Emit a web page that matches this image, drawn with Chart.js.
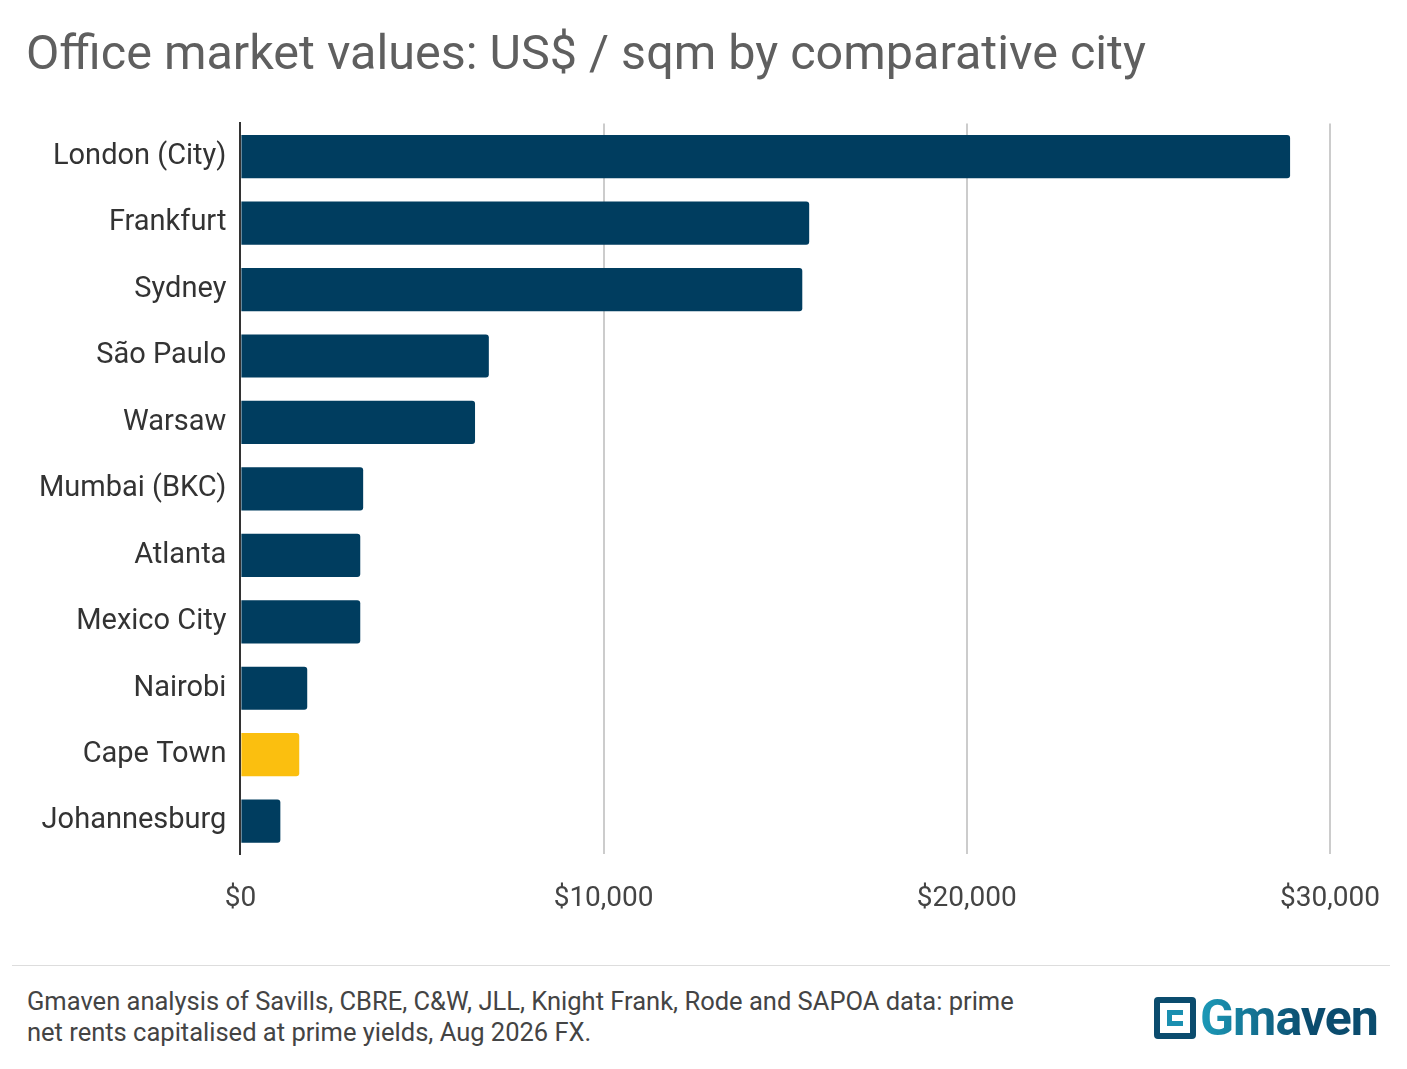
<!DOCTYPE html>
<html><head><meta charset="utf-8">
<script src="https://cdn.jsdelivr.net/npm/chart.js@4/dist/chart.umd.min.js"></script>
<style>
body{margin:0;background:#fff;font-family:Roboto,sans-serif;}
#wrap{position:relative;width:1407px;height:1069px;}
h1{position:absolute;left:26px;top:24px;margin:0;font-weight:400;font-size:48.5px;color:#5f5f5f;letter-spacing:0;}
#cw{position:absolute;left:20px;top:100px;width:1388px;height:844px;}
#rule{position:absolute;left:12px;right:17px;top:965px;border-top:1px solid #ddd;}
#src{position:absolute;left:27px;top:986px;font-size:25.5px;line-height:31px;color:#444;}
#logo{position:absolute;left:1154px;top:996px;display:flex;align-items:center;}
#logo .box{width:42px;height:42px;border:6px solid #0b4c6e;box-sizing:border-box;border-radius:4px;margin-right:4px;position:relative;}
#logo .box::after{content:"";position:absolute;left:7px;top:7px;width:16px;height:16px;border:5px solid #1a8fb0;border-right:none;box-sizing:border-box;}
#logo span{font-size:50px;font-weight:700;letter-spacing:-1px;line-height:44px;background:linear-gradient(90deg,#1c9ab8,#0b4c6e 60%);-webkit-background-clip:text;color:transparent;}
</style></head><body>
<div id="wrap">
<h1>Office market values: US$ / sqm by comparative city</h1>
<div id="cw"><canvas id="c"></canvas></div>
<div id="rule"></div>
<div id="src">Gmaven analysis of Savills, CBRE, C&amp;W, JLL, Knight Frank, Rode and SAPOA data: prime<br>net rents capitalised at prime yields, Aug 2026 FX.</div>
<div id="logo"><div class="box"></div><span>Gmaven</span></div>
</div>
<script>
const cities = ["London (City)","Frankfurt","Sydney","São Paulo","Warsaw","Mumbai (BKC)","Atlanta","Mexico City","Nairobi","Cape Town","Johannesburg"];
const values = [28900,15660,15470,6840,6460,3380,3300,3300,1840,1620,1100];
const highlight = "Cape Town";
const ticks = [0,10000,20000,30000];

new Chart(document.getElementById('c'), {
  type: 'bar',
  data: {
    labels: cities,
    datasets: [{
      data: values,
      backgroundColor: cities.map(c => c === highlight ? '#fbbf0f' : '#003d5f'),
      borderRadius: 3,
      borderSkipped: 'start',
      categoryPercentage: 1,
      barPercentage: 0.65
    }]
  },
  options: {
    indexAxis: 'y',
    responsive: true,
    maintainAspectRatio: false,
    animation: false,
    layout: { padding: { top: 10, right: 10, left: 13 } },
    plugins: { legend: { display: false }, tooltip: { enabled: false } },
    scales: {
      x: {
        min: 0, max: 30000,
        afterBuildTicks: a => { a.ticks = ticks.map(v => ({ value: v })); },
        grid: { color: '#cccccc', lineWidth: 2, drawTicks: false },
        border: { display: false },
        ticks: { color: '#444', font: { family: 'Roboto', size: 28 }, padding: 28,
                 callback: v => '$' + v.toLocaleString('en-US') }
      },
      y: {
        grid: { display: false },
        border: { color: '#333', width: 2 },
        ticks: { color: '#333', font: { family: 'Roboto', size: 29 }, padding: 6 }
      }
    }
  }
});
</script>
</body></html>
